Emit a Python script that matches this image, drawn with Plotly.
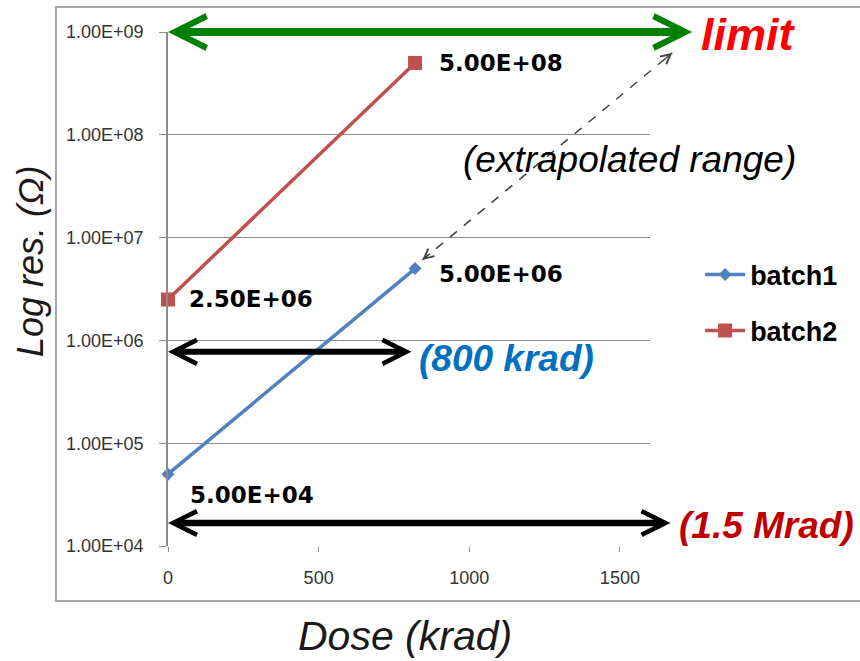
import numpy as np
import plotly.graph_objects as go

# ---------------- data ----------------
series_names = ["batch1", "batch2"]
dose_batch1 = [0, 820]
res_batch1 = [5.0e4, 5.0e6]
dose_batch2 = [0, 820]
res_batch2 = [2.5e6, 5.0e8]

x_tickvals = [0, 500, 1000, 1500]
y_tickvals = [1e4, 1e5, 1e6, 1e7, 1e8, 1e9]
y_ticktext = ["1.00E+04", "1.00E+05", "1.00E+06", "1.00E+07", "1.00E+08", "1.00E+09"]

x_range = [0, 1600]
y_log_range = [4, 9]

# annotation arrows (data units: dose in krad, resistance in ohm)
limit_res, limit_dose_end = 1.0e9, 1745
r800_res, r800_dose_end = 7.74e5, 813
r1500_res, r1500_dose_end = 1.675e4, 1673
extrap_start = (844, 6.05e6)
extrap_end = (1674, 6.27e8)

# ---------------- layout geometry ----------------
W, H = 860, 661
ML, MR, MT, MB = 168, 210, 32, 115
PW, PH = W - ML - MR, H - MT - MB

BLUE = "#4F81BD"
RED = "#C0504D"
GRID = "#8C8C8C"


def px(x):
    return (x - x_range[0]) / (x_range[1] - x_range[0])


def py(y):
    return (np.log10(y) - y_log_range[0]) / (y_log_range[1] - y_log_range[0])


fig = go.Figure()
fig.add_trace(go.Scatter(
    x=dose_batch1, y=res_batch1, name=series_names[0], mode="lines+markers",
    line=dict(color=BLUE, width=3.5), marker=dict(symbol="diamond", size=10, color=BLUE),
    legendgroup="g1", cliponaxis=False))
fig.add_trace(go.Scatter(
    x=dose_batch2, y=res_batch2, name=series_names[1], mode="lines+markers",
    line=dict(color=RED, width=3.5), marker=dict(symbol="square", size=14, color=RED),
    legendgroup="g2", cliponaxis=False))

ann = []

# value labels
label_shifts = [  # (dose, res, xshift, yshift)
    (dose_batch1[0], res_batch1[0], 20, -21),
    (dose_batch1[1], res_batch1[1], 22, -5),
    (dose_batch2[0], res_batch2[0], 19, 0),
    (dose_batch2[1], res_batch2[1], 22, 0),
]
for d, r, xs, ys in label_shifts:
    ann.append(dict(x=d, y=np.log10(r), xref="x", yref="y", text=f"{r:.2E}",
                    showarrow=False, xanchor="left", yanchor="middle",
                    xshift=xs, yshift=ys,
                    font=dict(family="DejaVu Sans", size=23, color="#000000", weight="bold")))


def double_arrow(x_end, yv, color, width, size):
    return dict(x=0, y=np.log10(yv), xref="x", yref="y",
                ax=x_end, ay=np.log10(yv), axref="x", ayref="y",
                text="", showarrow=True, arrowside="end+start",
                arrowhead=5, startarrowhead=5,
                arrowsize=size, startarrowsize=size,
                arrowwidth=width, arrowcolor=color,
                standoff=0, startstandoff=0)


ann.append(double_arrow(limit_dose_end, limit_res, "#008000", 8, 0.78))
ann.append(double_arrow(r800_dose_end, r800_res, "#000000", 6, 0.78))
ann.append(double_arrow(r1500_dose_end, r1500_res, "#000000", 6.5, 0.72))

# extrapolated dashed arrow
ex0, ey0 = px(extrap_start[0]), py(extrap_start[1])
ex1, ey1 = px(extrap_end[0]), py(extrap_end[1])
shapes = [
    dict(type="line", xref="paper", yref="paper", x0=ex0, y0=ey0, x1=ex1, y1=ey1,
         line=dict(color="#404040", width=1.5, dash="dash")),
    dict(type="rect", xref="paper", yref="paper", x0=-0.2324, x1=1.46, y0=-0.107, y1=1.0486,
         line=dict(color="#A6A6A6", width=2), layer="below"),
]
dxp, dyp = (ex1 - ex0) * PW, (ey1 - ey0) * PH
norm = np.hypot(dxp, dyp)
ux, uy = dxp / norm, dyp / norm
for (hx, hy, sgn) in [(ex1, ey1, -1), (ex0, ey0, 1)]:
    ann.append(dict(x=hx, y=hy, xref="paper", yref="paper",
                    ax=sgn * ux * 12, ay=-sgn * uy * 12,
                    text="", showarrow=True, arrowhead=5, arrowsize=1.6,
                    arrowwidth=1.2, arrowcolor="#404040", standoff=0))

# text labels
ann.append(dict(x=1.102, y=py(limit_res) - 3 / PH, xref="paper", yref="paper", text="limit",
                showarrow=False, xanchor="left", yanchor="middle",
                font=dict(family="Liberation Sans", size=45, color="#FF0000",
                          weight="bold", style="italic")))
ann.append(dict(x=1.056, y=(546 - 525) / PH, xref="paper", yref="paper", text="(1.5 Mrad)",
                showarrow=False, xanchor="left", yanchor="middle",
                font=dict(family="Liberation Sans", size=37, color="#C00000",
                          weight="bold", style="italic")))
ann.append(dict(x=826, y=np.log10(r800_res) - 0.06, xref="x", yref="y", text="(800 krad)",
                showarrow=False, xanchor="left", yanchor="middle",
                font=dict(family="Liberation Sans", size=37, color="#0070C0",
                          weight="bold", style="italic")))
ann.append(dict(x=973, y=7.756, xref="x", yref="y", text="(extrapolated range)",
                showarrow=False, xanchor="left", yanchor="middle",
                font=dict(family="Liberation Sans", size=37, color="#000000", style="italic")))

# axis titles
ann.append(dict(x=(30 - ML) / PW, y=(546 - 262) / PH, xref="paper", yref="paper",
                text="Log res. (Ω)", textangle=-90, showarrow=False,
                xanchor="center", yanchor="middle",
                font=dict(family="Liberation Sans", size=36, color="#1A1A1A", style="italic")))
ann.append(dict(x=(405 - ML) / PW, y=(546 - 636) / PH, xref="paper", yref="paper",
                text="Dose (krad)", showarrow=False, xanchor="center", yanchor="middle",
                font=dict(family="Liberation Sans", size=41, color="#1A1A1A", style="italic")))

fig.update_layout(
    width=W, height=H,
    margin=dict(l=ML, r=MR, t=MT, b=MB, autoexpand=False),
    paper_bgcolor="white", plot_bgcolor="white",
    showlegend=True,
    legend=dict(x=1.104, y=0.575, xanchor="left", yanchor="top",
                font=dict(family="Liberation Sans", size=27, color="#000000", weight="bold"),
                tracegroupgap=18, bgcolor="rgba(0,0,0,0)", itemwidth=40),
    annotations=ann, shapes=shapes,
    xaxis=dict(range=x_range, tickvals=x_tickvals, showgrid=False, zeroline=False,
               showline=False, ticks="outside", ticklen=5, tickcolor=GRID,
               ticklabelstandoff=10,
               tickfont=dict(family="Liberation Sans", size=18, color="#333333")),
    yaxis=dict(type="log", range=y_log_range, tickvals=y_tickvals, ticktext=y_ticktext,
               showgrid=True, gridcolor=GRID, gridwidth=1, zeroline=False,
               showline=True, linecolor=GRID, linewidth=1.5,
               ticks="outside", ticklen=7, tickcolor=GRID, ticklabelstandoff=12,
               tickfont=dict(family="Liberation Sans", size=18, color="#333333")),
)

fig.write_html("out.html")
